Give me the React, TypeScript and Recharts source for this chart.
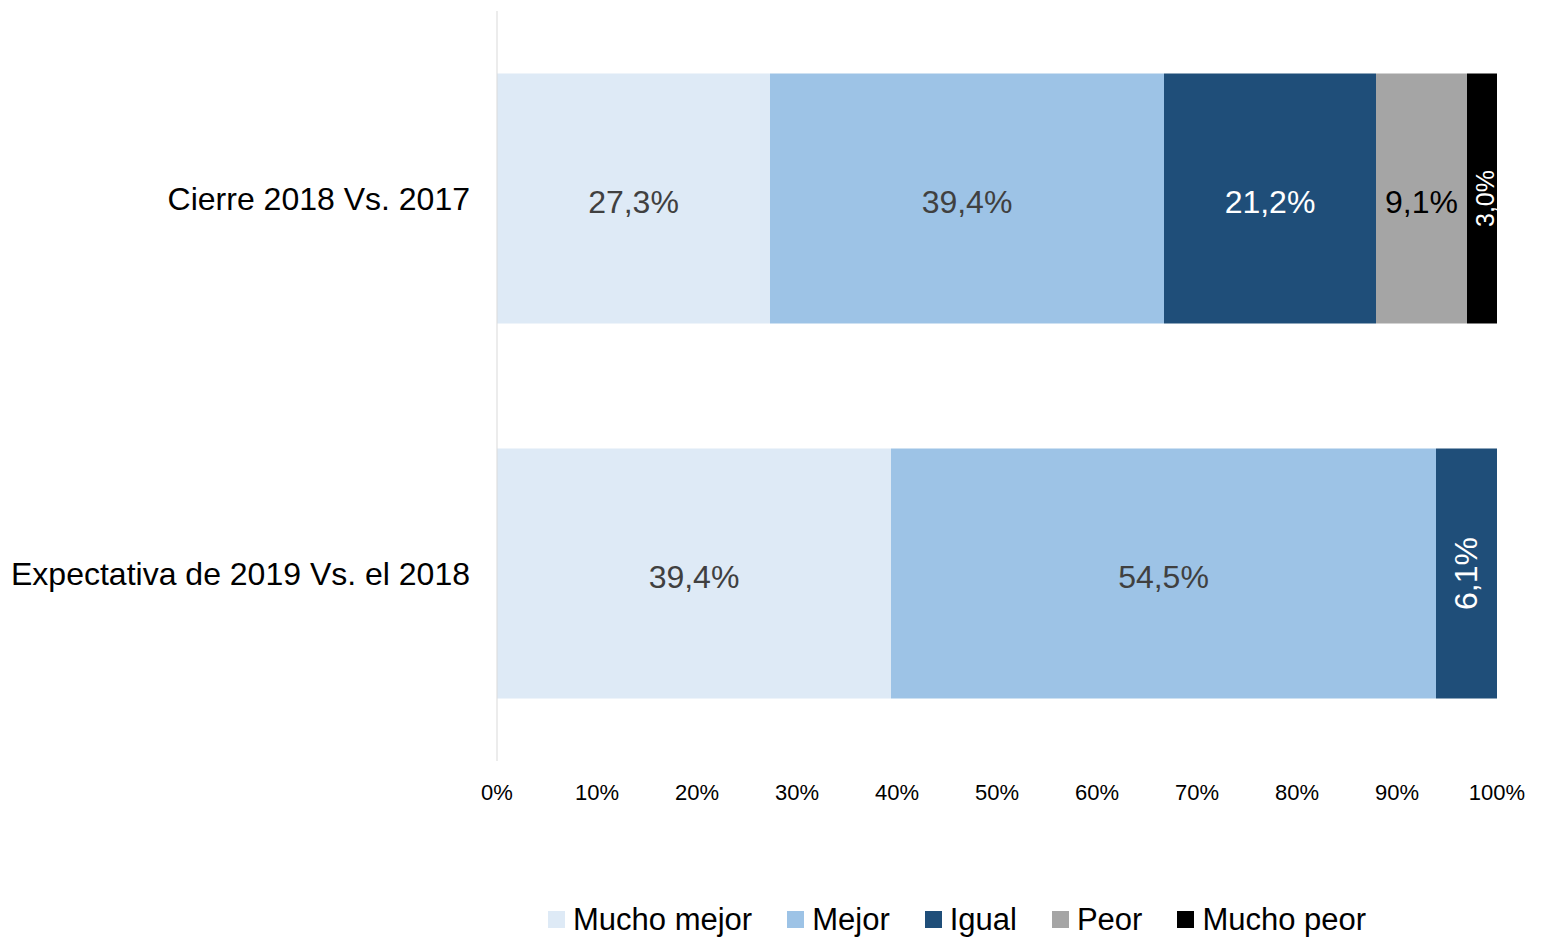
import { Bar, BarChart, LabelList, Legend, XAxis, YAxis } from "recharts";

const CATEGORIES = ["Cierre 2018 Vs. 2017", "Expectativa de 2019 Vs. el 2018"];
const MUCHO_MEJOR = [27.3, 39.4];
const MEJOR = [39.4, 54.5];
const IGUAL = [21.2, 6.1];
const PEOR = [9.1, 0];
const MUCHO_PEOR = [3.0, 0];
const X_TICKS = [0, 10, 20, 30, 40, 50, 60, 70, 80, 90, 100];

const FONT = '"Liberation Sans", Arial, Helvetica, sans-serif';

const SERIES = [
  { key: "muchoMejor", name: "Mucho mejor", color: "#DEEAF6", text: "#404040", values: MUCHO_MEJOR },
  { key: "mejor", name: "Mejor", color: "#9DC3E6", text: "#404040", values: MEJOR },
  { key: "igual", name: "Igual", color: "#1F4E79", text: "#FFFFFF", values: IGUAL },
  { key: "peor", name: "Peor", color: "#A5A5A5", text: "#000000", values: PEOR },
  { key: "muchoPeor", name: "Mucho peor", color: "#000000", text: "#FFFFFF", values: MUCHO_PEOR, small: true },
];

const data = CATEGORIES.map((name, i) => {
  const row: Record<string, string | number> = { name };
  SERIES.forEach((s) => (row[s.key] = s.values[i]));
  return row;
});

const fmtPct = (v: number) => v.toFixed(1).replace(".", ",") + "%";

function makeLabel(fill: string, small?: boolean) {
  return (props: any) => {
    const { x, y, width, height, value } = props;
    if (!value) return null;
    const rotate = Number(width) < 70;
    const cx = Number(x) + Number(width) / 2 + (small ? 3 : 0);
    const cy = Number(y) + Number(height) / 2 + (rotate ? 0 : 3);
    return (
      <text
        x={cx}
        y={cy}
        fill={fill}
        fontSize={small ? 25 : 32}
        fontFamily={FONT}
        textAnchor="middle"
        dominantBaseline="central"
        transform={rotate ? `rotate(-90 ${cx} ${cy})` : undefined}
      >
        {fmtPct(Number(value))}
      </text>
    );
  };
}

function CategoryTick(props: any) {
  const { y, payload } = props;
  return (
    <text x={470} y={y} textAnchor="end" dominantBaseline="central" fontSize={32} fontFamily={FONT} fill="#000">
      {payload.value}
    </text>
  );
}

function PctTick(props: any) {
  const { x, payload } = props;
  return (
    <text x={x} y={792} textAnchor="middle" dominantBaseline="central" fontSize={22} fontFamily={FONT} fill="#000">
      {payload.value}%
    </text>
  );
}

function LegendContent() {
  return (
    <div style={{ display: "flex", alignItems: "center", fontFamily: FONT, fontSize: 31, color: "#000", lineHeight: 1 }}>
      {SERIES.map((s) => (
        <div key={s.key} style={{ display: "flex", alignItems: "center", marginRight: 35 }}>
          <span style={{ width: 17, height: 17, background: s.color, marginRight: 8, display: "inline-block" }} />
          <span>{s.name}</span>
        </div>
      ))}
    </div>
  );
}

export default function App() {
  return (
    <div style={{ position: "absolute", left: 0, top: 0, background: "#fff" }}>
      <BarChart
        width={1541}
        height={937}
        data={data}
        layout="vertical"
        margin={{ top: 11, right: 44, left: 0, bottom: 111 }}
        barCategoryGap="16.67%"
      >
        <XAxis
          type="number"
          domain={[0, 100]}
          ticks={X_TICKS}
          height={30}
          axisLine={false}
          tickLine={false}
          tick={<PctTick />}
          interval={0}
        />
        <YAxis
          type="category"
          dataKey="name"
          width={497}
          axisLine={{ stroke: "#D9D9D9" }}
          tickLine={false}
          tick={<CategoryTick />}
        />
        <Legend
          content={<LegendContent />}
          wrapperStyle={{ position: "absolute", left: 548, top: 904, width: 900, height: 35 }}
        />
        {SERIES.map((s) => (
          <Bar key={s.key} dataKey={s.key} name={s.name} stackId="a" fill={s.color} isAnimationActive={false}>
            <LabelList dataKey={s.key} content={makeLabel(s.text, s.small)} />
          </Bar>
        ))}
      </BarChart>
    </div>
  );
}
